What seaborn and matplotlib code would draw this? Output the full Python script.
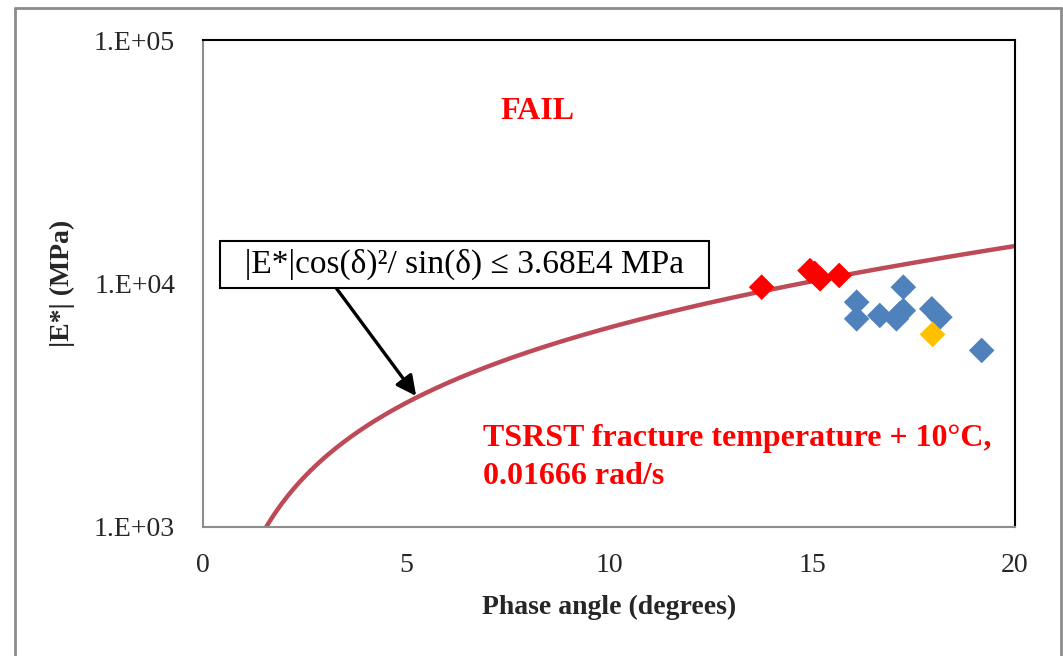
import numpy as np
import pandas as pd
import matplotlib
matplotlib.use("Agg")
import matplotlib.pyplot as plt
from matplotlib.lines import Line2D
import seaborn as sns

# Measured points: phase angle (degrees) and dynamic modulus |E*| (MPa)
fail_angle = [13.76, 14.95, 15.07, 15.2, 15.67]
fail_modulus = [9660, 11300, 11000, 10450, 10790]

pass_angle = [16.1, 16.1, 16.67, 17.08, 17.17, 17.25, 17.25, 17.95, 18.15, 19.18]
pass_modulus = [8380, 7160, 7390, 7160, 7530, 9660, 7740, 7870, 7270, 5310]

other_angle = [17.97]
other_modulus = [6180]

# Criterion: |E*| cos(d)^2 / sin(d) <= 3.68E4 MPa
criterion_limit = 3.68e4

x_ticks = [0, 5, 10, 15, 20]
y_ticks = [1e3, 1e4, 1e5]
y_tick_labels = ["1.E+03", "1.E+04", "1.E+05"]

sns.set_theme(style="white")
plt.rcParams["font.family"] = ["Liberation Serif", "DejaVu Serif"]

fig = plt.figure(figsize=(10.63, 6.56), dpi=100)
ax = fig.add_axes([203 / 1063, 1 - 527 / 656, 812 / 1063, 487 / 656])

# Limit curve
delta = np.linspace(1.0, 20.0, 400)
rad = np.deg2rad(delta)
curve = pd.DataFrame({"delta": delta,
                      "modulus": criterion_limit * np.sin(rad) / np.cos(rad) ** 2})
sns.lineplot(data=curve, x="delta", y="modulus", ax=ax, color="#BE4A58",
             linewidth=3.2, zorder=2)

points = pd.DataFrame({
    "angle": fail_angle + pass_angle + other_angle,
    "modulus": fail_modulus + pass_modulus + other_modulus,
    "group": (["fail"] * len(fail_angle) + ["pass"] * len(pass_angle)
              + ["other"] * len(other_angle)),
})
sns.scatterplot(data=points, x="angle", y="modulus", hue="group",
                palette={"fail": "#FF0000", "pass": "#4F81BD", "other": "#FFC000"},
                marker="D", s=170, edgecolor="none", legend=False, ax=ax, zorder=3)

ax.set_yscale("log")
ax.set_xlim(0, 20)
ax.set_ylim(1e3, 1e5)
ax.set_xticks(x_ticks)
ax.set_xticklabels([str(t) for t in x_ticks])
ax.set_yticks(y_ticks)
ax.set_yticklabels(y_tick_labels)
ax.yaxis.set_minor_locator(matplotlib.ticker.NullLocator())
ax.tick_params(axis="both", which="major", direction="in", length=7, width=1.2,
               color="#8C8C8C", labelsize=20)
ax.tick_params(axis="y", pad=20)
ax.tick_params(axis="x", pad=19)

for side in ["left", "bottom"]:
    ax.spines[side].set_color("#8C8C8C")
    ax.spines[side].set_linewidth(1.5)
for side in ["top", "right"]:
    ax.spines[side].set_color("#000000")
    ax.spines[side].set_linewidth(1.5)

ax.set_xlabel("Phase angle (degrees)", fontsize=20, fontweight="bold", labelpad=12)
ax.set_ylabel("|E*| (MPa)", fontsize=20, fontweight="bold", labelpad=14)

ax.text(7.32, 5.1e4, "FAIL", color="#FF0000", fontsize=23, fontweight="bold",
        va="center", ha="left")
ax.text(6.9, 1.93e3, "TSRST fracture temperature + 10\u00b0C,\n0.01666 rad/s",
        color="#FF0000", fontsize=23, fontweight="bold", va="center", ha="left",
        linespacing=1.45)

ax.annotate("  |E*|cos(\u03b4)\u00b2/ sin(\u03b4) \u2264 3.68E4 MPa  ",
            xy=(5.25, 3.45e3), xytext=(6.45, 1.2e4),
            fontsize=24, va="center", ha="center", color="#000000",
            bbox=dict(boxstyle="square,pad=0.24", fc="white", ec="black", lw=1.5),
            arrowprops=dict(arrowstyle="-|>,head_length=0.6,head_width=0.3",
                            color="black", lw=2.4, mutation_scale=20,
                            shrinkA=0, shrinkB=0, relpos=(0.215, 0.0)),
            zorder=4)

# Outer chart-area border
border = dict(color="#8C8C8C", linewidth=2.0, transform=fig.transFigure)
fig.add_artist(Line2D([15 / 1063, 15 / 1063], [0, 1 - 8 / 656], **border))
fig.add_artist(Line2D([15 / 1063, 1061 / 1063], [1 - 8 / 656, 1 - 8 / 656], **border))
fig.add_artist(Line2D([1061 / 1063, 1061 / 1063], [0, 1 - 8 / 656], **border))

fig.savefig("out.png", dpi=100)
